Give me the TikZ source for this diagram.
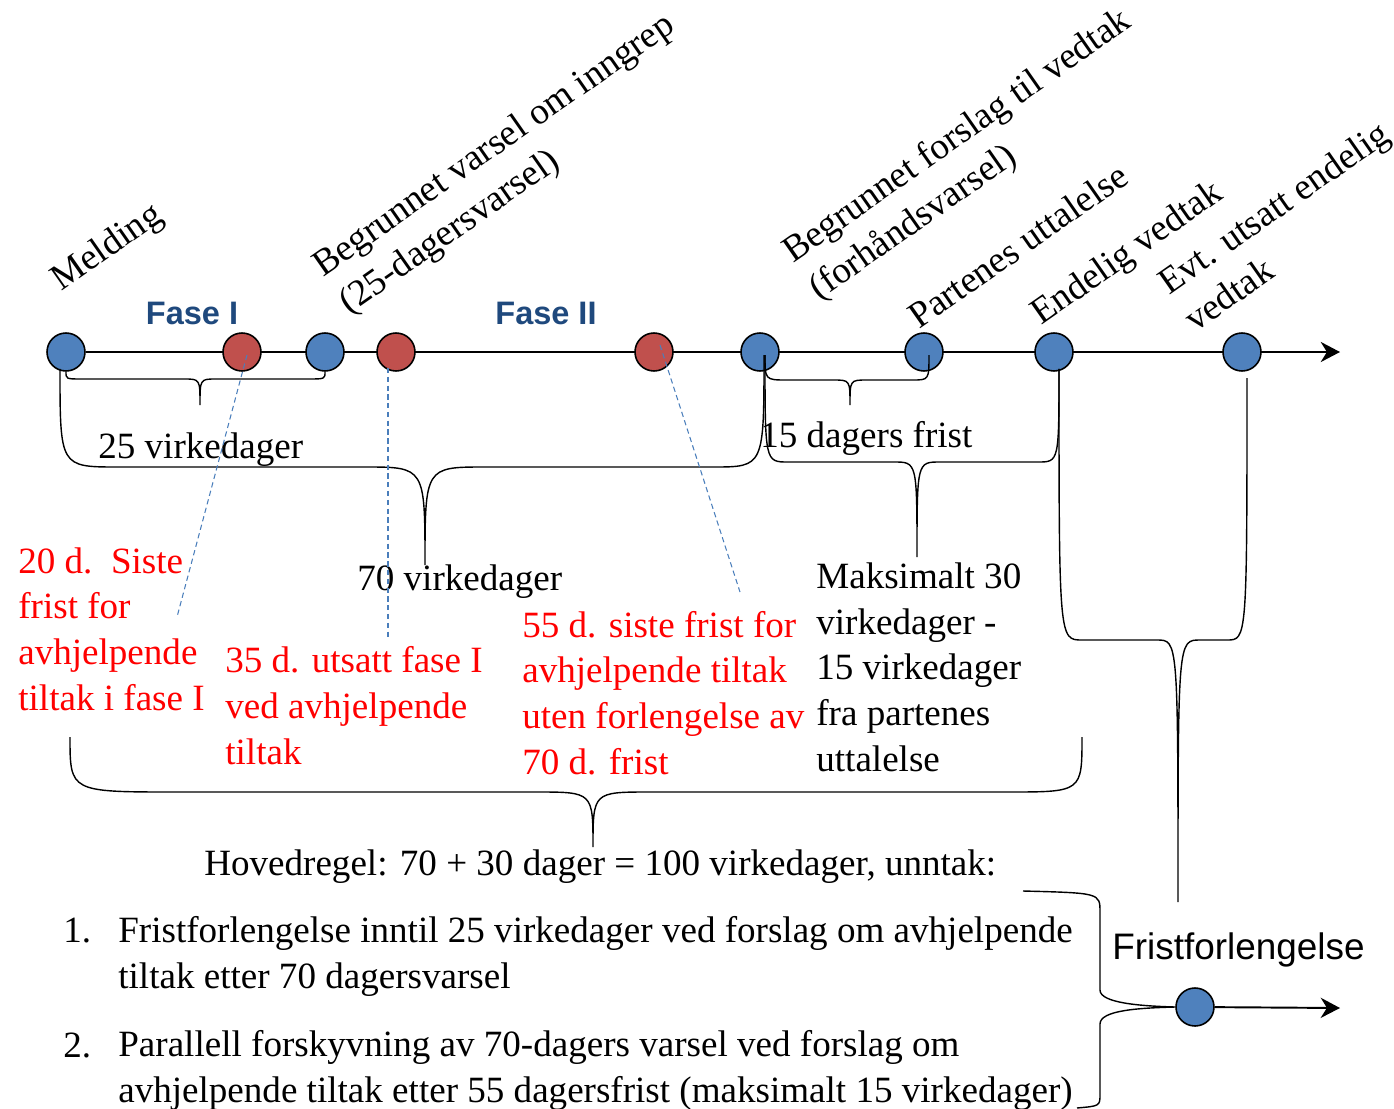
\documentclass[tikz,border=0pt]{standalone}
\usepackage{fontspec}
\setmainfont{Liberation Serif}
\setsansfont{Liberation Sans}
\usetikzlibrary{arrows.meta,calc,backgrounds}
\definecolor{evblue}{RGB}{79,129,189}
\definecolor{evred}{RGB}{192,80,77}
\definecolor{fasecol}{RGB}{31,73,125}
\definecolor{guidecol}{RGB}{74,126,187}

\begin{document}
\begin{tikzpicture}[x=0.02cm, y=0.02cm]
    \tikzset{evt/.style = {shape=circle, draw, line width=0.9pt, inner sep=0pt, minimum size=0.76cm}}
    \tikzset{bluept/.style = {evt, fill=evblue}}
    \tikzset{redpt/.style = {evt, fill=evred}}
    \tikzset{lbl/.style = {font=\fontsize{21.1}{25.9}\selectfont, inner sep=0pt, anchor=base west, align=left}}
    \tikzset{rlbl/.style = {lbl, text=red}}
    \tikzset{tlbl/.style = {lbl, rotate=35}}
    \tikzset{fase/.style = {font=\sffamily\bfseries\fontsize{18.5}{22}\selectfont, text=fasecol, inner sep=0pt, anchor=base}}
    \tikzset{brace/.style = {draw, line width=0.8pt}}
    \tikzset{guide/.style = {draw=guidecol, line width=0.6pt, dash pattern=on 3pt off 2pt}}
    \tikzset{axis/.style = {draw, line width=1.1pt, -{Stealth[length=11pt, width=11.5pt]}}}
    \useasboundingbox (0,0) rectangle (1394,-1109);

    % vertices
    \node[bluept] (m1) at (66,-352) {};
    \node[redpt]  (m2) at (242,-352) {};
    \node[bluept] (m3) at (325,-352) {};
    \node[redpt]  (m4) at (396,-352) {};
    \node[redpt]  (m5) at (654,-352) {};
    \node[bluept] (m6) at (760,-352) {};
    \node[bluept] (m7) at (924,-352) {};
    \node[bluept] (m8) at (1054,-352) {};
    \node[bluept] (m9) at (1242,-352) {};
    \node[bluept] (m10) at (1195,-1007) {};
    \coordinate (axisend) at (1340,-352);
    \coordinate (frend) at (1340,-1008);

    % labels on the time line (multi-line nodes sit on their last line)
    \node[tlbl] (melding) at (61,-292) {Melding};
    \node[tlbl] (varsel) at (349,-315) {Begrunnet varsel om inngrep\\(25-dagersvarsel)};
    \node[tlbl] (forslag) at (819,-301) {Begrunnet forslag til vedtak\\(forhåndsvarsel)};
    \node[tlbl] (uttalelse) at (919,-330) {Partenes uttalelse};
    \node[tlbl] (vedtak) at (1041,-326) {Endelig vedtak};
    \node[tlbl] (utsatt) at (1195,-333) {Evt. utsatt endelig\\vedtak};
    \node[fase] (fase1) at (192,-324) {Fase I};
    \node[fase] (fase2) at (546,-324) {Fase II};

    % texts
    \node[lbl] (d25) at (98,-458) {25 virkedager};
    \node[lbl] (d15) at (760,-447) {15 dagers frist};
    \node[lbl] (d70) at (357,-590) {70 virkedager};
    \node[rlbl] (r20) at (18,-710) {20 d.\ \ Siste\\frist for\\avhjelpende\\tiltak i fase I};
    \node[rlbl] (r35) at (225,-764) {35 d. utsatt fase I\\ved avhjelpende\\tiltak};
    \node[rlbl] (r55) at (522,-774) {55 d. siste frist for\\avhjelpende tiltak\\uten forlengelse av\\70 d. frist};
    \node[lbl] (maks) at (816,-771) {Maksimalt 30\\virkedager -\\15 virkedager\\fra partenes\\uttalelse};
    \node[lbl] (hoved) at (204,-875) {Hovedregel: 70 + 30 dager = 100 virkedager, unntak:};
    \node[lbl] (n1) at (63,-942) {1.};
    \node[lbl] (u1) at (118,-988) {Fristforlengelse inntil 25 virkedager ved forslag om avhjelpende\\tiltak etter 70 dagersvarsel};
    \node[lbl] (n2) at (63,-1057) {2.};
    \node[lbl] (u2) at (118,-1102) {Parallell forskyvning av 70-dagers varsel ved forslag om\\avhjelpende tiltak etter 55 dagersfrist (maksimalt 15 virkedager)};
    \node[lbl, font=\sffamily\fontsize{21}{24}\selectfont] (frist) at (1112,-959) {Fristforlengelse};

    % axes
    \begin{scope}[on background layer]
        \draw[axis] (m1) -- (axisend);
    \end{scope}
    \draw[axis] (m10) -- (frend);

    % braces
    \coordinate (t1) at (200,-405);
    \coordinate (t2) at (425,-565);
    \coordinate (t3) at (850,-405);
    \coordinate (t4) at (917,-557);
    \coordinate (t5) at (1178,-902);
    \coordinate (t6) at (593,-847);
    \draw[brace] (m1.south) .. controls (66,-379) .. (82,-379) -- (184,-379)
        .. controls (200,-379) .. (t1) .. controls (200,-379) .. (216,-379) -- (308,-379)
        .. controls (325,-379) .. (m3.south);
    \draw[brace] ($(m1.south)+(-6,3)$) .. controls (60,-467) .. (118,-467) -- (365,-467)
        .. controls (425,-467) .. (t2) .. controls (425,-467) .. (485,-467) -- (713,-467)
        .. controls (764,-467) .. ($(m6)+(4,-3)$);
    \draw[brace] ($(m6)+(5,-3)$) .. controls (765,-380) .. (787,-380) -- (833,-380)
        .. controls (850,-380) .. (t3) .. controls (850,-380) .. (867,-380) -- (912,-380)
        .. controls (929,-380) .. ($(m7)+(5,-3)$);
    \draw[brace] ($(m6)+(5,-3)$) .. controls (765,-462) .. (788,-462) -- (894,-462)
        .. controls (917,-462) .. (t4) .. controls (917,-462) .. (940,-462) -- (1038,-462)
        .. controls (1059,-462) .. ($(m8.south)+(5,3)$);
    \draw[brace] ($(m8.south)+(5,3)$) .. controls (1059,-640) .. (1082,-640) -- (1157,-640)
        .. controls (1178,-640) .. (t5) .. controls (1178,-640) .. (1200,-640) -- (1227,-640)
        .. controls (1247,-640) .. (1247,-378);
    \draw[brace] (70,-737) .. controls (70,-792) .. (176,-792) -- (536,-792)
        .. controls (593,-792) .. (t6) .. controls (593,-792) .. (650,-792) -- (1008,-792)
        .. controls (1082,-792) .. (1082,-737);
    \draw[brace] (1023,-891) .. controls (1100,-893) .. (1100,-912) -- (1100,-990)
        .. controls (1100,-1003) and (1140,-1006) .. (m10.west)
        .. controls (1140,-1008) and (1100,-1010) .. (1100,-1024) -- (1100,-1094)
        .. controls (1100,-1106) .. (1077,-1108);

    % guides
    \coordinate (g1) at (177,-617);
    \coordinate (g2) at (388,-640);
    \coordinate (g3) at (740,-592);
    \draw[guide] ($(m2)+(5,-3)$) -- (g1);
    \draw[guide] ($(m4)+(-8,-16)$) -- (g2);
    \draw[guide] ($(m5)+(6,7)$) -- (g3);
\end{tikzpicture}
\end{document}
